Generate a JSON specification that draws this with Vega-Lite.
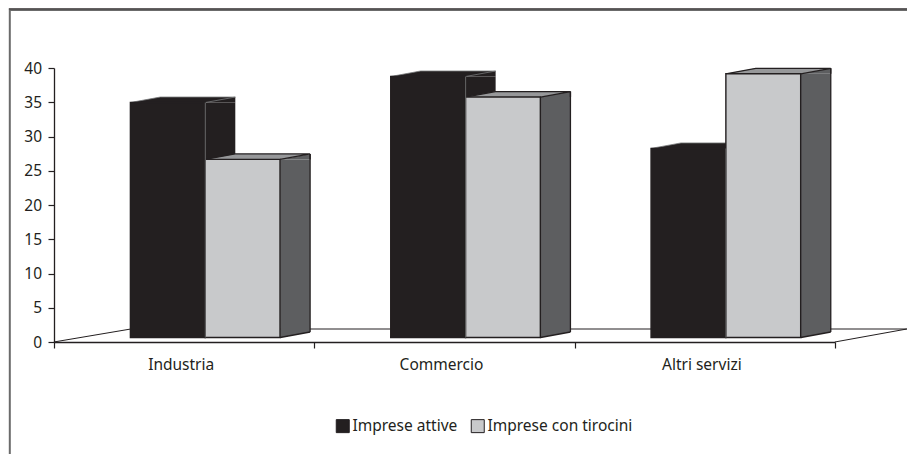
{
  "$schema": "https://vega.github.io/schema/vega-lite/v6.json",
  "description": "Imprese attive e imprese con tirocini per settore, colonne in prospettiva",
  "autosize": "none",
  "width": 781,
  "height": 274,
  "padding": {"left": 54, "top": 68, "right": 72, "bottom": 112},
  "background": "white",
  "config": {
    "view": {"stroke": null},
    "font": "Noto Sans",
    "axis": {"labelFont": "Noto Sans", "labelFontSize": 15.5, "labelColor": "#231f20", "domainColor": "#231f20", "tickColor": "#231f20", "domainWidth": 1.3, "tickWidth": 1.2, "grid": false, "title": null}
  },
  "datasets": {
    "imprese": [
      {"settore": "Industria", "serie": "Imprese attive", "valore": 34.3},
      {"settore": "Industria", "serie": "Imprese con tirocini", "valore": 26.0},
      {"settore": "Commercio", "serie": "Imprese attive", "valore": 38.1},
      {"settore": "Commercio", "serie": "Imprese con tirocini", "valore": 35.1},
      {"settore": "Altri servizi", "serie": "Imprese attive", "valore": 27.6},
      {"settore": "Altri servizi", "serie": "Imprese con tirocini", "valore": 38.5}
    ],
    "origine": [
      {"settore": "Industria", "serie": "Imprese attive", "valore": 0}
    ]
  },
  "data": {"name": "imprese"},
  "encoding": {
    "x": {
      "field": "settore",
      "type": "nominal",
      "sort": ["Industria", "Commercio", "Altri servizi"],
      "scale": {"type": "band", "paddingInner": 0, "paddingOuter": 0},
      "axis": {"labelAngle": 0, "tickBand": "extent", "tickSize": 6, "labelPadding": 9, "labelOffset": -3.5, "zindex": 0}
    },
    "xOffset": {
      "field": "serie",
      "type": "nominal",
      "sort": ["Imprese attive", "Imprese con tirocini"],
      "scale": {"type": "band", "paddingInner": 0, "paddingOuter": 0.74, "align": 0.69}
    },
    "y": {
      "field": "valore",
      "type": "quantitative",
      "stack": null,
      "scale": {"domain": [0, 40], "nice": false},
      "axis": {"values": [0, 5, 10, 15, 20, 25, 30, 35, 40], "tickSize": 6, "labelPadding": 6.5, "zindex": 0}
    }
  },
  "layer": [
    {
      "description": "cornice esterna",
      "data": {"name": "origine"},
      "mark": {"type": "point", "shape": "M-158 112 L-158 -332 L760 -332", "size": 4, "filled": false, "stroke": "#6b6b6b", "strokeWidth": 2, "opacity": 1}
    },
    {
      "description": "filetto superiore della cornice",
      "data": {"name": "origine"},
      "mark": {"type": "point", "shape": "M-159 -333.2 L760 -333.2", "size": 4, "filled": false, "stroke": "#231f20", "strokeWidth": 1, "opacity": 1}
    },
    {
      "description": "pavimento del grafico",
      "data": {"name": "origine"},
      "mark": {"type": "point", "shape": "M-114 0 L-37 -13 L760 -13 M667 0 L739 -13", "size": 4, "filled": false, "stroke": "#231f20", "strokeWidth": 1, "opacity": 1}
    },
    {
      "description": "fianco delle colonne scure",
      "transform": [{"filter": "datum.serie === 'Imprese attive'"}],
      "mark": {"type": "rule", "color": "#231f20", "strokeWidth": 30, "yOffset": -4.5, "y2Offset": -10},
      "encoding": {"xOffset": {"value": 166.3}, "y2": {"datum": 0}}
    },
    {
      "description": "tetto e raccordi delle colonne scure",
      "transform": [{"filter": "datum.serie === 'Imprese attive'"}],
      "mark": {"type": "point", "shape": "M-37.5 -4.5 L-7.5 -10 L67.5 -10 L67.5 -4.5 L37.5 -4.5 Z", "size": 4, "filled": true, "fill": "#231f20", "opacity": 1}
    },
    {
      "description": "spigoli chiari delle colonne scure",
      "transform": [{"filter": "datum.serie === 'Imprese attive'"}],
      "mark": {"type": "point", "shape": "M-37.5 -4.5 L-7.5 -10 L67.5 -10 M37.5 -4.5 L67.5 -10", "size": 4, "filled": false, "stroke": "#77787a", "strokeWidth": 0.8, "opacity": 1}
    },
    {
      "description": "fianco delle colonne chiare",
      "transform": [{"filter": "datum.serie === 'Imprese con tirocini'"}],
      "mark": {"type": "rule", "color": "#5d5e60", "strokeWidth": 30, "yOffset": -4.5, "y2Offset": -10},
      "encoding": {"xOffset": {"value": 241.1}, "y2": {"datum": 0}}
    },
    {
      "description": "raccordo superiore del fianco",
      "transform": [{"filter": "datum.serie === 'Imprese con tirocini'"}],
      "mark": {"type": "point", "shape": "M37.5 -4.5 L67.5 -10 L67.5 -4.5 Z", "size": 4, "filled": true, "fill": "#5d5e60", "opacity": 1}
    },
    {
      "description": "raccordo inferiore del fianco",
      "transform": [{"filter": "datum.serie === 'Imprese con tirocini'"}],
      "mark": {"type": "point", "shape": "M37.5 -10 L67.5 -10 L37.5 -4.5 Z", "size": 4, "filled": true, "fill": "#5d5e60", "opacity": 1},
      "encoding": {"y": {"datum": 0}}
    },
    {
      "description": "tetto delle colonne chiare",
      "transform": [{"filter": "datum.serie === 'Imprese con tirocini'"}],
      "mark": {"type": "point", "shape": "M-37.5 -4.5 L-7.5 -10 L67.5 -10 L37.5 -4.5 Z", "size": 4, "filled": true, "fill": "#97989a", "opacity": 1}
    },
    {
      "description": "contorno superiore delle colonne chiare",
      "transform": [{"filter": "datum.serie === 'Imprese con tirocini'"}],
      "mark": {"type": "point", "shape": "M-37.5 -4.5 L-7.5 -10 L67.5 -10 L37.5 -4.5 M67.5 -10 L67.5 -4.5", "size": 4, "filled": false, "stroke": "#231f20", "strokeWidth": 1.3, "opacity": 1}
    },
    {
      "description": "contorno destro delle colonne chiare",
      "transform": [{"filter": "datum.serie === 'Imprese con tirocini'"}],
      "mark": {"type": "rule", "color": "#231f20", "strokeWidth": 1.3, "yOffset": -10, "y2Offset": -10},
      "encoding": {"xOffset": {"value": 256.1}, "y2": {"datum": 0}}
    },
    {
      "description": "contorno inferiore del fianco",
      "transform": [{"filter": "datum.serie === 'Imprese con tirocini'"}],
      "mark": {"type": "point", "shape": "M37.5 -4.5 L67.5 -10", "size": 4, "filled": false, "stroke": "#231f20", "strokeWidth": 1.3, "opacity": 1},
      "encoding": {"y": {"datum": 0}}
    },
    {
      "description": "fronte delle colonne",
      "mark": {"type": "bar", "yOffset": -4.5, "y2Offset": -4.5, "stroke": "#231f20", "strokeWidth": 1.4},
      "encoding": {
        "y2": {"datum": 0},
        "color": {
          "field": "serie",
          "type": "nominal",
          "sort": ["Imprese attive", "Imprese con tirocini"],
          "scale": {"domain": ["Imprese attive", "Imprese con tirocini"], "range": ["#231f20", "#c8c9cb"]},
          "legend": {
            "title": null,
            "orient": "none",
            "legendX": 281,
            "legendY": 350,
            "direction": "horizontal",
            "symbolType": "square",
            "symbolSize": 169,
            "symbolStrokeColor": "#231f20",
            "symbolStrokeWidth": 1,
            "labelFont": "Noto Sans",
            "labelFontSize": 15.5,
            "labelColor": "#231f20",
            "labelOffset": 2,
            "columnPadding": 11,
            "padding": 0
          }
        }
      }
    },
    {
      "description": "spigolo verticale tra fronte e fianco delle colonne scure",
      "transform": [{"filter": "datum.serie === 'Imprese attive'"}],
      "mark": {"type": "rule", "color": "#77787a", "strokeWidth": 0.8, "yOffset": -4.5, "y2Offset": -4.5},
      "encoding": {"xOffset": {"value": 151.3}, "y2": {"datum": 0}}
    }
  ]
}
